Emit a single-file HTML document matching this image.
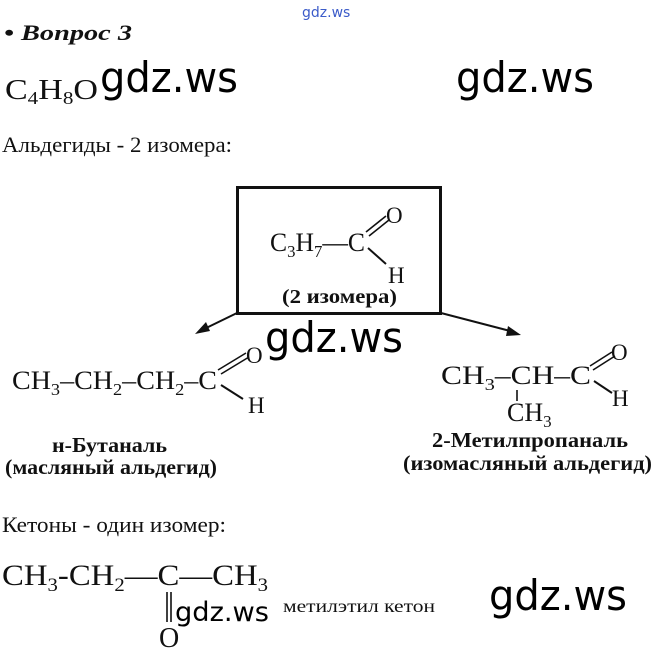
<!DOCTYPE html>
<html><head><meta charset="utf-8"><style>
html,body{margin:0;padding:0;background:#fff;width:659px;height:662px;overflow:hidden}
svg{display:block}
.s{font-family:"Liberation Serif","DejaVu Serif",serif;fill:#111}
.w{font-family:"DejaVu Sans","Liberation Sans",sans-serif;fill:#000}
</style></head><body>
<svg width="659" height="662" viewBox="0 0 659 662" xmlns="http://www.w3.org/2000/svg">
<text x="302" y="17" class="w" font-size="14" style="fill:#3b5bc9">gdz.ws</text>
<text x="4" y="40" class="s" font-size="22" font-weight="bold" font-style="italic" textLength="128" lengthAdjust="spacingAndGlyphs">• Вопрос 3</text>
<text x="5" y="99" class="s" font-size="29" textLength="93" lengthAdjust="spacingAndGlyphs">C<tspan font-size="18" dy="5">4</tspan><tspan dy="-5">H</tspan><tspan font-size="18" dy="5">8</tspan><tspan dy="-5">O</tspan></text>
<text x="100" y="92" class="w" font-size="42" textLength="138" lengthAdjust="spacingAndGlyphs">gdz.ws</text>
<text x="456" y="92" class="w" font-size="42" textLength="138" lengthAdjust="spacingAndGlyphs">gdz.ws</text>
<text x="2" y="152" class="s" font-size="22" textLength="230" lengthAdjust="spacingAndGlyphs">Альдегиды - 2 изомера:</text>

<rect x="237.5" y="187.5" width="203" height="126" fill="none" stroke="#111" stroke-width="3"/>
<text x="270" y="251" class="s" font-size="26" textLength="95" lengthAdjust="spacingAndGlyphs">C<tspan font-size="17" dy="6">3</tspan><tspan dy="-6">H</tspan><tspan font-size="17" dy="6">7</tspan><tspan dy="-6">—C</tspan></text>
<text x="386" y="223" class="s" font-size="23">O</text>
<text x="388" y="283" class="s" font-size="23">H</text>
<line x1="366" y1="232" x2="386" y2="216" stroke="#111" stroke-width="1.6"/>
<line x1="369" y1="236" x2="389" y2="220" stroke="#111" stroke-width="1.6"/>
<line x1="368" y1="248" x2="386" y2="264" stroke="#111" stroke-width="2"/>
<text x="282" y="303" class="s" font-size="20" font-weight="bold" textLength="115" lengthAdjust="spacingAndGlyphs">(2 изомера)</text>

<line x1="237" y1="313" x2="200" y2="331" stroke="#111" stroke-width="2"/>
<polygon points="195,334 206,322 210,331" fill="#111"/>
<line x1="441" y1="313" x2="514" y2="332" stroke="#111" stroke-width="2"/>
<polygon points="521,335 508,326 506,336" fill="#111"/>

<text x="265" y="352" class="w" font-size="42" textLength="138" lengthAdjust="spacingAndGlyphs">gdz.ws</text>

<text x="12" y="389" class="s" font-size="26" textLength="205" lengthAdjust="spacingAndGlyphs">CH<tspan font-size="17" dy="6">3</tspan><tspan dy="-6">–CH</tspan><tspan font-size="17" dy="6">2</tspan><tspan dy="-6">–CH</tspan><tspan font-size="17" dy="6">2</tspan><tspan dy="-6">–C</tspan></text>
<line x1="218" y1="370" x2="246" y2="353" stroke="#111" stroke-width="1.6"/>
<line x1="221" y1="374" x2="249" y2="357" stroke="#111" stroke-width="1.6"/>
<text x="246" y="363" class="s" font-size="23">O</text>
<line x1="221" y1="385" x2="243" y2="399" stroke="#111" stroke-width="2"/>
<text x="248" y="413" class="s" font-size="23">H</text>
<text x="52" y="452" class="s" font-size="21" font-weight="bold" textLength="115" lengthAdjust="spacingAndGlyphs">н-Бутаналь</text>
<text x="5" y="474" class="s" font-size="21" font-weight="bold" textLength="212" lengthAdjust="spacingAndGlyphs">(масляный альдегид)</text>

<text x="441" y="384" class="s" font-size="26" textLength="150" lengthAdjust="spacingAndGlyphs">CH<tspan font-size="17" dy="6">3</tspan><tspan dy="-6">–CH–C</tspan></text>
<line x1="590" y1="366" x2="612" y2="352" stroke="#111" stroke-width="1.6"/>
<line x1="593" y1="370" x2="615" y2="356" stroke="#111" stroke-width="1.6"/>
<text x="611" y="360" class="s" font-size="23">O</text>
<line x1="594" y1="381" x2="612" y2="393" stroke="#111" stroke-width="2"/>
<text x="612" y="406" class="s" font-size="23">H</text>
<line x1="517" y1="390" x2="517" y2="401" stroke="#111" stroke-width="1.6"/>
<text x="507" y="421" class="s" font-size="26">CH<tspan font-size="17" dy="6">3</tspan></text>
<text x="432" y="447" class="s" font-size="21" font-weight="bold" textLength="196" lengthAdjust="spacingAndGlyphs">2-Метилпропаналь</text>
<text x="403" y="470" class="s" font-size="21" font-weight="bold" textLength="249" lengthAdjust="spacingAndGlyphs">(изомасляный альдегид)</text>

<text x="2" y="532" class="s" font-size="22" textLength="224" lengthAdjust="spacingAndGlyphs">Кетоны - один изомер:</text>
<text x="2" y="585" class="s" font-size="30" textLength="266" lengthAdjust="spacingAndGlyphs">CH<tspan font-size="19" dy="6">3</tspan><tspan dy="-6">-CH</tspan><tspan font-size="19" dy="6">2</tspan><tspan dy="-6">—C—CH</tspan><tspan font-size="19" dy="6">3</tspan></text>
<line x1="167" y1="592" x2="167" y2="622" stroke="#111" stroke-width="1.6"/>
<line x1="171" y1="592" x2="171" y2="622" stroke="#111" stroke-width="1.6"/>
<text x="159" y="647" class="s" font-size="28">O</text>
<text x="175" y="621" class="w" font-size="27" textLength="94" lengthAdjust="spacingAndGlyphs">gdz.ws</text>
<text x="283" y="612" class="s" font-size="18" textLength="152" lengthAdjust="spacingAndGlyphs">метилэтил кетон</text>
<text x="489" y="610" class="w" font-size="42" textLength="138" lengthAdjust="spacingAndGlyphs">gdz.ws</text>
</svg>
</body></html>
